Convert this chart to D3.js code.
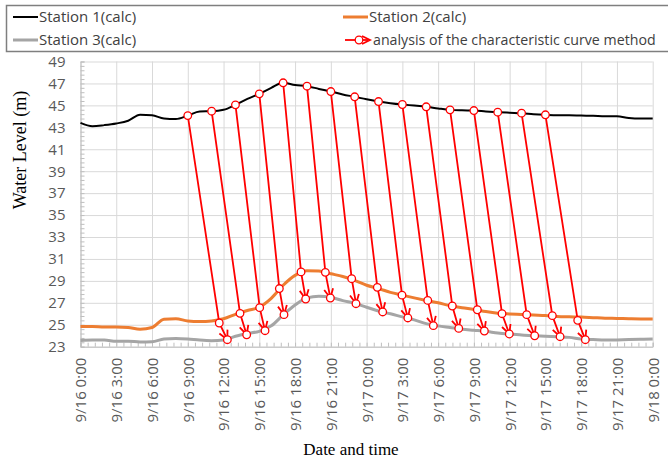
<!DOCTYPE html>
<html>
<head>
<meta charset="utf-8">
<script src="https://cdn.jsdelivr.net/npm/d3@7"></script>
<style>
  body { margin: 0; background: #fff; }
  svg { display: block; }
</style>
</head>
<body>
<svg id="chart" width="668" height="461"></svg>
<script>
// hours after 9/16 0:00
var timeLabels = ["9/16 0:00", "9/16 3:00", "9/16 6:00", "9/16 9:00", "9/16 12:00", "9/16 15:00",
  "9/16 18:00", "9/16 21:00", "9/17 0:00", "9/17 3:00", "9/17 6:00", "9/17 9:00",
  "9/17 12:00", "9/17 15:00", "9/17 18:00", "9/17 21:00", "9/18 0:00"];
var hours = d3.range(0, 49);

var station1 = [43.4, 43.1, 43.2, 43.35, 43.6, 44.15, 44.1, 43.8, 43.75, 44.07,
  44.45, 44.47, 44.6, 45.05, 45.6, 46.05, 46.6, 47.06, 46.85, 46.75,
  46.5, 46.26, 46.0, 45.78, 45.55, 45.35, 45.2, 45.08, 44.98, 44.87,
  44.72, 44.59, 44.55, 44.53, 44.45, 44.38, 44.33, 44.29, 44.2, 44.14,
  44.1, 44.1, 44.07, 44.05, 44.0, 44.0, 43.85, 43.8, 43.8];

var station2 = [24.85, 24.85, 24.8, 24.8, 24.75, 24.6, 24.75, 25.5, 25.55, 25.35,
  25.3, 25.35, 25.55, 25.95, 26.3, 26.6, 27.4, 28.6, 29.5, 29.92,
  29.9, 29.65, 29.4, 29.05, 28.6, 28.3, 27.95, 27.7, 27.45, 27.22,
  27.0, 26.75, 26.55, 26.4, 26.2, 26.05, 25.98, 25.93, 25.88, 25.84,
  25.75, 25.72, 25.7, 25.65, 25.6, 25.58, 25.55, 25.53, 25.53];

var station3 = [23.57, 23.6, 23.6, 23.5, 23.5, 23.43, 23.45, 23.7, 23.75, 23.7,
  23.6, 23.55, 23.6, 23.95, 24.2, 24.4, 24.9, 25.9, 26.8, 27.45,
  27.6, 27.5, 27.2, 26.95, 26.6, 26.25, 26.0, 25.72, 25.45, 25.1,
  24.9, 24.75, 24.6, 24.5, 24.4, 24.25, 24.15, 24.07, 24.0, 23.95,
  23.9, 23.85, 23.7, 23.65, 23.6, 23.62, 23.65, 23.67, 23.7];

// characteristic curve method: start (station 1) -> middle (station 2) -> end (station 3)
var arrowStartH = [9, 11, 13, 15, 17, 19, 21, 23, 25, 27, 29, 31, 33, 35, 37, 39];
var arrowStartV = [44.07, 44.47, 45.05, 46.05, 47.06, 46.75, 46.26, 45.78, 45.35, 45.08, 44.87, 44.59, 44.53, 44.38, 44.29, 44.14];
var arrowMidH = [11.64, 13.38, 15.03, 16.68, 18.5, 20.54, 22.75, 24.9, 26.97, 29.13, 31.19, 33.29, 35.36, 37.43, 39.58, 41.71];
var arrowMidV = [25.16, 26.04, 26.56, 28.3, 29.82, 29.78, 29.2, 28.41, 27.7, 27.22, 26.71, 26.37, 26.01, 25.92, 25.83, 25.4];
var arrowEndH = [12.32, 13.94, 15.48, 17.07, 18.89, 20.96, 23.11, 25.35, 27.46, 29.6, 31.73, 33.88, 35.97, 38.1, 40.23, 42.35];
var arrowEndV = [23.64, 24.09, 24.46, 25.92, 27.35, 27.44, 26.92, 26.17, 25.62, 24.92, 24.67, 24.43, 24.16, 24.0, 23.91, 23.64];

var svg = d3.select("#chart");
var margin = { top: 61.5, right: 15.3, bottom: 114.3, left: 80.5 };
var width = 668 - margin.left - margin.right;
var height = 461 - margin.top - margin.bottom;
var sans = "'Open Sans', 'Noto Sans', sans-serif";
var serif = "'Liberation Serif', 'Times New Roman', serif";

var g = svg.append("g").attr("transform", "translate(" + margin.left + "," + margin.top + ")");

var x = d3.scaleLinear().domain([0, 48]).range([0, width]);
var y = d3.scaleLinear().domain([23, 49]).range([height, 0]);

var majorX = d3.range(0, 49, 3);
var majorY = d3.range(23, 50, 2);

// gridlines
g.append("g")
  .attr("class", "grid")
  .call(d3.axisLeft(y).tickValues(majorY).tickSize(-width).tickFormat(""))
  .call(function (s) { s.select(".domain").remove(); })
  .selectAll("line").attr("stroke", "#d9d9d9");
g.append("g")
  .attr("class", "grid")
  .call(d3.axisTop(x).tickValues(majorX).tickSize(-height).tickFormat(""))
  .call(function (s) { s.select(".domain").remove(); })
  .selectAll("line").attr("stroke", "#d9d9d9");

// minor ticks (inside)
g.append("g")
  .call(d3.axisRight(y).tickValues(d3.range(23, 49.01, 0.4)).tickSize(4).tickFormat(""))
  .call(function (s) { s.select(".domain").attr("stroke", "#bfbfbf"); })
  .selectAll("line").attr("stroke", "#bfbfbf");
g.append("g")
  .attr("transform", "translate(0," + height + ")")
  .call(d3.axisTop(x).tickValues(d3.range(0, 48.01, 0.6)).tickSize(4).tickFormat(""))
  .call(function (s) { s.select(".domain").attr("stroke", "#bfbfbf"); })
  .selectAll("line").attr("stroke", "#bfbfbf");

// y axis labels
var yAxis = g.append("g")
  .call(d3.axisLeft(y).tickValues(majorY).tickSize(0).tickPadding(15).tickFormat(d3.format("d")));
yAxis.select(".domain").remove();
yAxis.selectAll("text")
  .attr("fill", "#595959")
  .style("font-family", sans)
  .style("font-size", "15px");

// x axis labels
var xAxis = g.append("g")
  .attr("transform", "translate(0," + height + ")")
  .call(d3.axisBottom(x).tickValues(majorX).tickSize(0).tickFormat(function (d, i) { return timeLabels[i]; }));
xAxis.select(".domain").remove();
xAxis.selectAll("text")
  .attr("transform", "rotate(-90)")
  .attr("text-anchor", "end")
  .attr("x", -11)
  .attr("y", 0)
  .attr("dy", "0.36em")
  .attr("fill", "#595959")
  .style("font-family", sans)
  .style("font-size", "15px");

// station lines
var line = d3.line()
  .x(function (d) { return x(d[0]); })
  .y(function (d) { return y(d[1]); })
  .curve(d3.curveMonotoneX);

function pairs(vals) {
  return hours.map(function (h, i) { return [h, vals[i]]; });
}

g.append("path").datum(pairs(station1))
  .attr("fill", "none").attr("stroke", "#000").attr("stroke-width", 2).attr("d", line);
g.append("path").datum(pairs(station2))
  .attr("fill", "none").attr("stroke", "#ed7d31").attr("stroke-width", 3).attr("d", line);
g.append("path").datum(pairs(station3))
  .attr("fill", "none").attr("stroke", "#a5a5a5").attr("stroke-width", 3).attr("d", line);

// arrowhead marker
svg.append("defs").append("marker")
  .attr("id", "arrowhead")
  .attr("markerUnits", "userSpaceOnUse")
  .attr("viewBox", "-10 -6 12 12")
  .attr("refX", 0)
  .attr("refY", 0)
  .attr("markerWidth", 12)
  .attr("markerHeight", 12)
  .attr("orient", "auto")
  .append("path")
  .attr("d", "M-9,-4.5L0,0L-9,4.5")
  .attr("fill", "none")
  .attr("stroke", "#ff0000")
  .attr("stroke-width", 1.8);

var arrows = arrowStartH.map(function (h, i) {
  return [[h, arrowStartV[i]], [arrowMidH[i], arrowMidV[i]], [arrowEndH[i], arrowEndV[i]]];
});

var straight = d3.line()
  .x(function (d) { return x(d[0]); })
  .y(function (d) { return y(d[1]); });

g.selectAll(".arrow")
  .data(arrows)
  .enter()
  .append("path")
  .attr("class", "arrow")
  .attr("fill", "none")
  .attr("stroke", "#ff0000")
  .attr("stroke-width", 1.8)
  .attr("marker-end", "url(#arrowhead)")
  .attr("d", straight);

var pts = [];
arrows.forEach(function (a) { pts = pts.concat(a); });
g.selectAll(".pt")
  .data(pts)
  .enter()
  .append("circle")
  .attr("class", "pt")
  .attr("cx", function (d) { return x(d[0]); })
  .attr("cy", function (d) { return y(d[1]); })
  .attr("r", 3.8)
  .attr("fill", "#fff")
  .attr("stroke", "#ff0000")
  .attr("stroke-width", 1.3);

// axis titles
svg.append("text")
  .attr("transform", "translate(26,150)rotate(-90)")
  .attr("text-anchor", "middle")
  .style("font-family", serif)
  .style("font-size", "18px")
  .attr("fill", "#000")
  .text("Water Level (m)");

svg.append("text")
  .attr("x", 351)
  .attr("y", 455)
  .attr("text-anchor", "middle")
  .style("font-family", serif)
  .style("font-size", "17px")
  .attr("fill", "#000")
  .text("Date and time");

// legend
svg.append("rect")
  .attr("x", 6.5)
  .attr("y", 5.5)
  .attr("width", 700)
  .attr("height", 46)
  .attr("fill", "#fff")
  .attr("stroke", "#7f7f7f")
  .attr("stroke-width", 1.5);

var legendItems = [
  { name: "Station 1(calc)", color: "#000", w: 2, x: 13, y: 17 },
  { name: "Station 2(calc)", color: "#ed7d31", w: 3, x: 343, y: 17 },
  { name: "Station 3(calc)", color: "#a5a5a5", w: 3, x: 13, y: 40 },
  { name: "analysis of the characteristic curve method", color: "#ff0000", w: 1.8, x: 343, y: 40, arrow: true }
];

legendItems.forEach(function (d) {
  var lg = svg.append("g").attr("transform", "translate(" + d.x + "," + d.y + ")");
  if (d.arrow) {
    lg.append("line").attr("x1", 2).attr("x2", 25).attr("y1", 0).attr("y2", 0)
      .attr("stroke", d.color).attr("stroke-width", d.w);
    lg.append("path").attr("d", "M19,-4L27,0L19,4").attr("fill", "none")
      .attr("stroke", d.color).attr("stroke-width", 1.8);
    lg.append("circle").attr("cx", 16).attr("cy", 0).attr("r", 3.8)
      .attr("fill", "#fff").attr("stroke", d.color).attr("stroke-width", 1.3);
  } else {
    lg.append("line").attr("x1", 0).attr("x2", 25).attr("y1", 0).attr("y2", 0)
      .attr("stroke", d.color).attr("stroke-width", d.w);
  }
  lg.append("text")
    .attr("x", d.arrow ? 30 : 26)
    .attr("y", 0)
    .attr("dy", "0.35em")
    .style("font-family", sans)
    .style("font-size", d.arrow ? "14.2px" : "15px")
    .attr("fill", "#404040")
    .text(d.name);
});
</script>
</body>
</html>
